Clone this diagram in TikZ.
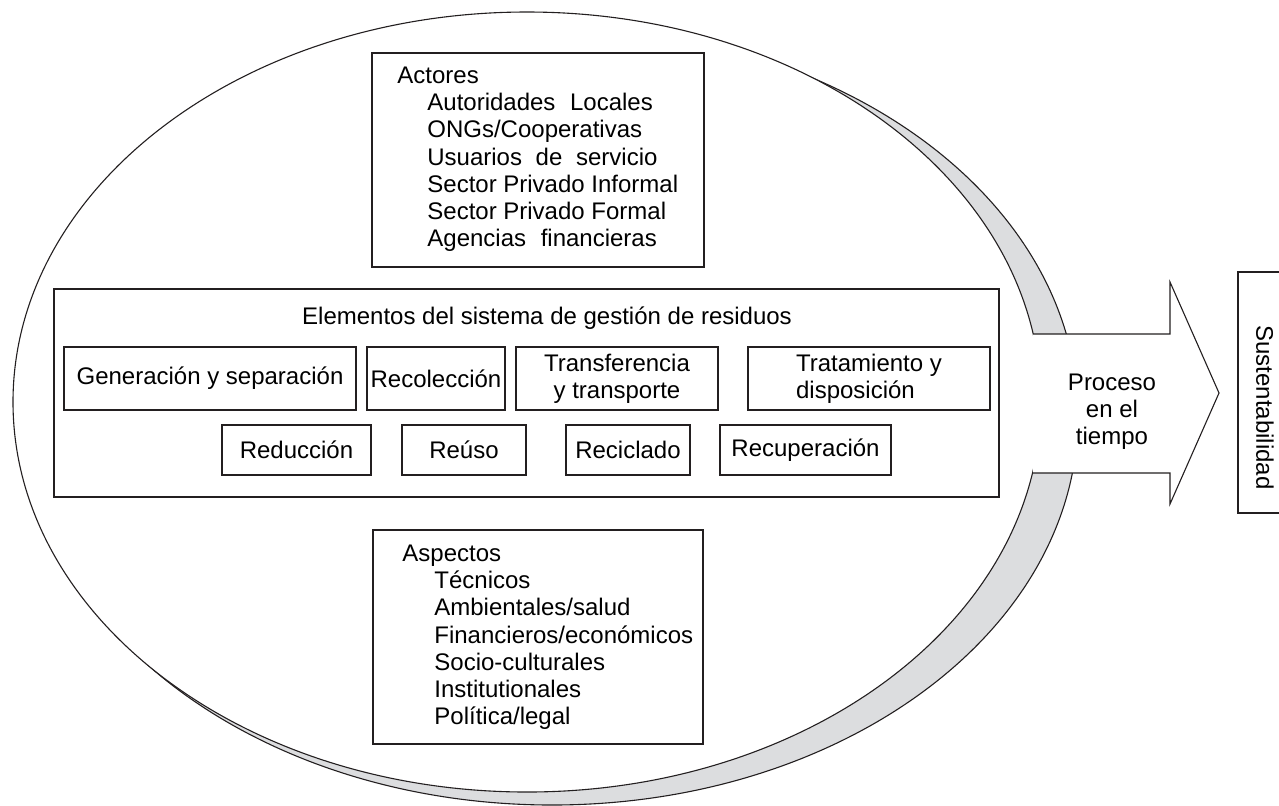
\documentclass[tikz,border=0pt]{standalone}
\usepackage{fontspec}
\setmainfont{Liberation Sans}
\usepackage{xcolor}
\usetikzlibrary{calc}
\definecolor{ink}{HTML}{231F20}
\definecolor{shade}{HTML}{DCDDDF}
\tikzset{
  rim/.style={draw=ink, line width=0.55pt},
  box/.style={draw=ink, line width=0.75pt, rectangle, inner sep=1pt, align=center, font=\fontsize{12}{13.5}\selectfont},
  lst/.style={inner sep=0pt, align=left, anchor=north west, font=\fontsize{12}{13.6}\selectfont},
  lab/.style={inner sep=0pt, align=center, font=\fontsize{12}{13.5}\selectfont},
}

\begin{document}
\begin{tikzpicture}[x=0.5pt, y=-0.5pt]
  \useasboundingbox (0,0) rectangle (1279,805);
  \clip (0,0) rectangle (1279,805);
  % ellipse with its shadow
  \filldraw[rim, fill=shade] (552,416) ellipse [x radius=526, y radius=389];
  \filldraw[rim, fill=white] (527,402) ellipse [x radius=514, y radius=390];

  % actores
  \node[box, minimum width=166pt, minimum height=107pt] (actbox) at (538,160) {};
  \node[lst] (acttxt) at (397,66.5) {Actores\\
    \hspace*{15pt}Autoridades\hspace{4pt} Locales\\
    \hspace*{15pt}ONGs/Cooperativas\\
    \hspace*{15pt}Usuarios\hspace{3.5pt} de\hspace{3.5pt} servicio\\
    \hspace*{15pt}Sector Privado Informal\\
    \hspace*{15pt}Sector Privado Formal\\
    \hspace*{15pt}Agencias\hspace{4pt} financieras};

  % elementos
  \node[box, minimum width=472.5pt, minimum height=104pt] (elembox) at (526.5,393) {};
  \node[lab] (elemtit) at (547,318) {Elementos del sistema de gestión de residuos};
  \node[box, minimum width=146pt, minimum height=31.5pt] (gen) at (210,378.5) {Generación y separación};
  \node[box, minimum width=69pt, minimum height=31.5pt] (recol) at (436,378.5) {Recolección};
  \node[box, minimum width=101pt, minimum height=31.5pt] (transf) at (617,378.5) {Transferencia\\y transporte};
  \node[box, minimum width=121pt, minimum height=31.5pt, align=left] (trat) at (869,378.5) {Tratamiento y\\disposición};
  \node[box, minimum width=74.5pt, minimum height=25pt] (reduc) at (296.5,450) {Reducción};
  \node[box, minimum width=62pt, minimum height=25pt] (reuso) at (464,450) {Reúso};
  \node[box, minimum width=62pt, minimum height=25pt] (recic) at (628,450) {Reciclado};
  \node[box, minimum width=85.5pt, minimum height=25pt] (recup) at (805.5,450) {Recuperación};

  % aspectos
  \node[box, minimum width=165pt, minimum height=107pt] (aspbox) at (538,637) {};
  \node[lst] (asptxt) at (402,544.5) {Aspectos\\
    \hspace*{16pt}Técnicos\\
    \hspace*{16pt}Ambientales/salud\\
    \hspace*{16pt}Financieros/económicos\\
    \hspace*{16pt}Socio-culturales\\
    \hspace*{16pt}Institutionales\\
    \hspace*{16pt}Política/legal};

  % arrow
  \coordinate (at) at (1033,334);
  \coordinate (ab) at (1033,473);
  \coordinate (ht) at (1170,282);
  \coordinate (hb) at (1170,504);
  \coordinate (tip) at (1219,393);
  \fill[white] (at) -- (1170,334) -- (ht) -- (tip) -- (hb) -- (1170,473) -- (ab) -- cycle;
  \draw[rim, line join=miter] (at) -- (1170,334) -- (ht) -- (tip) -- (hb) -- (1170,473) -- (ab);
  \node[lab] (proc) at (1112,411.5) {Proceso\\en el\\tiempo};

  % sustentabilidad
  \node[box, minimum width=27pt, minimum height=120.5pt] (sust) at (1265,392.5) {};
  \node[lab, rotate=-90] (susttxt) at (1265,407.5) {Sustentabilidad};
\end{tikzpicture}
\end{document}
